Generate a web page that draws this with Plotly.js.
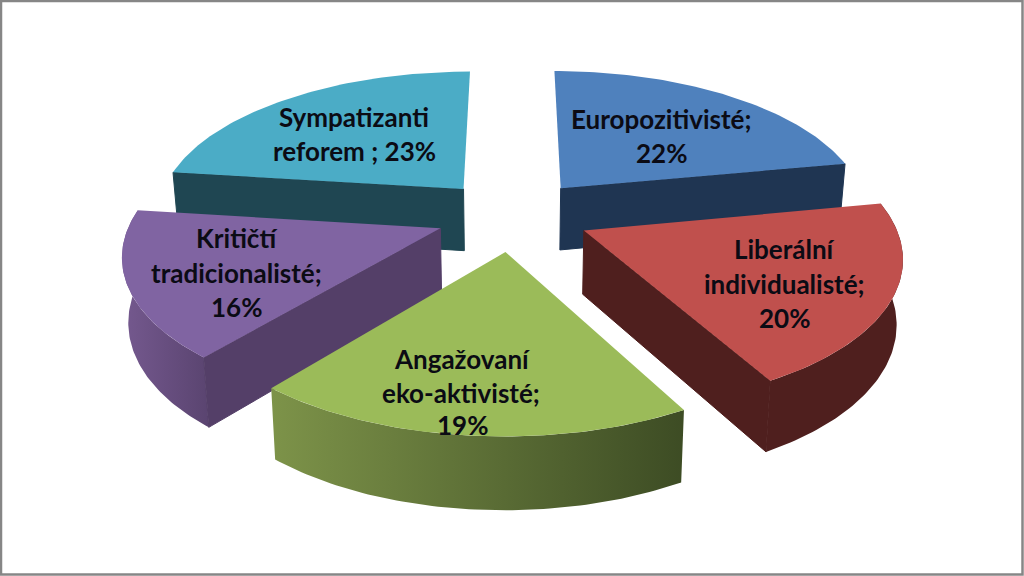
<!DOCTYPE html>
<html><head><meta charset="utf-8">
<script src="https://cdn.plot.ly/plotly-3.0.1.min.js"></script>
<style>html,body{margin:0;padding:0;background:#fff;overflow:hidden}</style>
</head><body><div id="chart" style="width:1024px;height:576px"></div>
<script>
// Data
const segments = ["Europozitivisté","Liberální individualisté","Angažovaní eko-aktivisté","Kritičtí tradicionalisté","Sympatizanti reforem"];
const shares = [22,20,19,16,23];
const labelLines = [
  ["Europozitivisté;","22%"],
  ["Liberální","individualisté;","20%"],
  ["Angažovaní","eko-aktivisté;","19%"],
  ["Kritičtí","tradicionalisté;","16%"],
  ["Sympatizanti","reforem ; 23%"]
];
// Styles
const topColors = ["#4f81bd","#c0504d","#9bbb59","#8064a2","#4bacc6"];
const faceColors = ["#1f3552","#4f1f1e",null,"#543f68","#1f4652"];
const faceSide = ["end","end",null,"start","start"];
const stripColors = [null,"#4f1f1e",["#7d9349","#3d4c24"],["#75598f","#5a4470"],null];
const drawOrder = [4,0,3,1,2];
const labelSpots = [
  [[661,119],[661,153]],
  [[784,249],[784,284],[784,318]],
  [[462,359],[461,393],[462,425]],
  [[237,238],[236,273],[236,307]],
  [[354,117],[354,151]]
];
// Projection of the tilted, exploded pie onto the page
const cx=513, k=0.155, explode=0.25;
const top_ = {A:308,B:143,cy:215}, low={A:303,B:150,cy:278};
const proj=(u,v,p)=>{const d=1-k*v;return [cx+p.A*u/d,p.cy+p.B*v/d];};
const rad=d=>d*Math.PI/180;
const total=shares.reduce((a,b)=>a+b,0);
let cum=0;
const slices=shares.map(s=>{const a0=cum/total*360;cum+=s;const a1=cum/total*360;return {a0,a1,mid:(a0+a1)/2};});
function geom(sl){
  const ox=explode*Math.sin(rad(sl.mid)), oy=-explode*Math.cos(rad(sl.mid));
  const rim=[];const n=72;
  for(let i=0;i<=n;i++){const a=rad(sl.a0+(sl.a1-sl.a0)*i/n);rim.push([ox+Math.sin(a),oy-Math.cos(a)]);}
  return {apex:[ox,oy],rim};
}
const traces=[];
const poly=(pts,extra)=>Object.assign({type:"scatter",mode:"lines",x:pts.map(p=>p[0]),y:pts.map(p=>p[1]),fill:"toself",line:{width:0},hoverinfo:"skip",showlegend:false},extra);
drawOrder.forEach(i=>{
  const g=geom(slices[i]);
  const P=q=>proj(q[0],q[1],top_), L=q=>proj(q[0],q[1],low);
  if(stripColors[i]){
    const pts=g.rim.map(P).concat(g.rim.slice().reverse().map(L));
    const c=stripColors[i];
    const extra=Array.isArray(c)?{fillcolor:c[1],fillgradient:{type:"horizontal",colorscale:[[0,c[0]],[1,c[1]]]}}:{fillcolor:c};
    traces.push(poly(pts,extra));
  }
  if(faceColors[i]){
    const e=faceSide[i]==="end"?g.rim[g.rim.length-1]:g.rim[0];
    traces.push(poly([P(g.apex),P(e),L(e),L(g.apex),P(g.apex)],{fillcolor:faceColors[i],line:{width:1,color:faceColors[i]}}));
  }
  traces.push(poly([P(g.apex)].concat(g.rim.map(P)),{fillcolor:topColors[i],name:segments[i]}));
});
const annotations=[];
labelLines.forEach((lines,i)=>lines.forEach((t,j)=>annotations.push({
  text:t,x:labelSpots[i][j][0],y:labelSpots[i][j][1],xref:"x",yref:"y",showarrow:false,
  xanchor:"center",yanchor:"middle",font:{family:"Lato",size:26,color:"#0b0b14",weight:700}
})));
Plotly.newPlot("chart",traces,{
  width:1024,height:576,margin:{l:0,r:0,t:0,b:0},paper_bgcolor:"#fff",plot_bgcolor:"#fff",showlegend:false,
  xaxis:{range:[0,1024],visible:false,fixedrange:true},
  yaxis:{range:[576,0],visible:false,fixedrange:true},
  annotations,
  shapes:[{type:"rect",xref:"x",yref:"y",x0:1,y0:1,x1:1022.5,y1:574.5,line:{color:"#868686",width:2.5},fillcolor:"rgba(0,0,0,0)"}]
},{staticPlot:true,displayModeBar:false});
</script></body></html>
